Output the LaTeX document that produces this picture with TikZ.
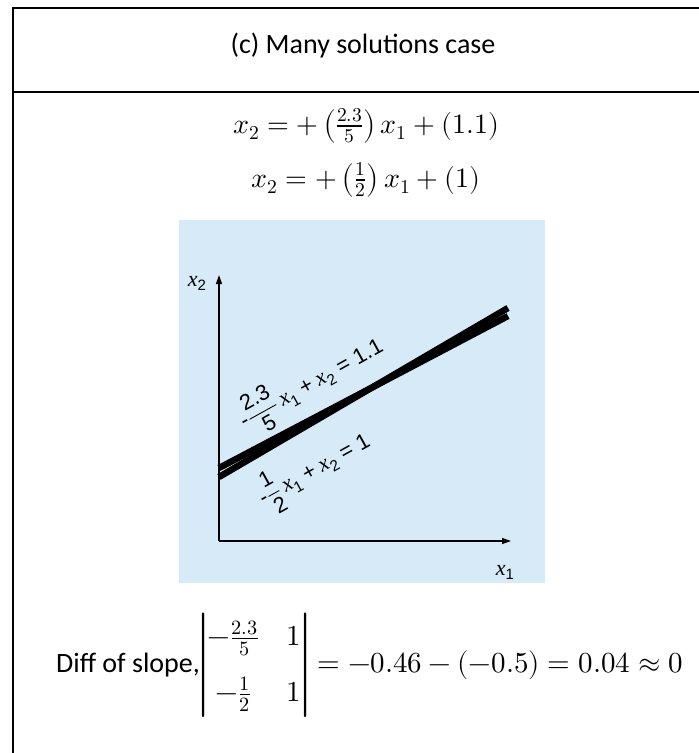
\documentclass[tikz,border=0pt]{standalone}
\usepackage{amsmath}
\usepackage{unicode-math}
\setmainfont{Carlito}
\setmathfont{Latin Modern Math}
\newfontfamily\hv{Liberation Sans}
\newfontfamily\tmit{Liberation Serif Italic}
\usetikzlibrary{arrows.meta}
\definecolor{plotbg}{RGB}{214,234,248}
\newcommand{\hvn}[1]{\text{\hv #1}}
\newcommand{\lx}[1]{\text{\tmit x}_{\text{\hv #1}}}
\begin{document}
\begin{tikzpicture}[x=1pt,y=-1pt,
  rule/.style={line width=2pt},
  bigtext/.style={font=\fontsize{28}{34}\selectfont, inner sep=0pt},
  axis/.style={line width=1.2pt, -{Triangle[length=9pt,width=6pt]}},
  sol/.style={line width=6.5pt},
  plotlab/.style={font=\fontsize{22}{26}\selectfont, inner sep=0pt}]
\useasboundingbox (0,0) rectangle (699,753);
% table rules
\draw[rule] (13,753) -- (13,7.5) -- (699,7.5);
\draw[rule] (12,92) -- (699,92);
% texts
\node[bigtext, anchor=base] (title) at (363,53) {(c) Many solutions case};
\node[bigtext, anchor=base] (eq1) at (366,133) {$x_2 = +\left(\frac{2.3}{5}\right)x_1 + (1.1)$};
\node[bigtext, anchor=base] (eq2) at (366,187) {$x_2 = +\left(\frac{1}{2}\right)x_1 + (1)$};
% plot
\fill[plotbg] (179,220) rectangle (545,583);
\coordinate (O) at (219,541);
\coordinate (ytip) at (219,275);
\coordinate (xtip) at (511,541);
\draw[axis] (O) -- (ytip);
\draw[axis] (O) -- (xtip);
\node[plotlab] (xtwo) at (197,283) {\tmit x\raisebox{-4pt}{\hv\fontsize{15}{17}\selectfont 2}};
\node[plotlab] (xone) at (505,572) {\tmit x\raisebox{-4pt}{\hv\fontsize{15}{17}\selectfont 1}};
\coordinate (a0) at (219,468);
\coordinate (a1) at (508,316);
\coordinate (b0) at (219,477);
\coordinate (b1) at (508,308);
\draw[sol] (a0) -- (a1);
\draw[sol] (b0) -- (b1);
\node[plotlab, rotate=29] (lab1) at (311,383) {$\hvn{-}\dfrac{\hvn{2.3}}{\hvn{5}}\,\lx{1} \mathbin{\hvn{+}} \lx{2} \mathrel{\hvn{=}} \hvn{1.1}$};
\node[plotlab, rotate=29] (lab2) at (314,469) {$\hvn{-}\dfrac{\hvn{1}}{\hvn{2}}\,\lx{1} \mathbin{\hvn{+}} \lx{2} \mathrel{\hvn{=}} \hvn{1}$};
% bottom row
\node[bigtext, anchor=base west] (diff) at (56,672) {Diff of slope,\fontsize{29}{34}\selectfont$\setlength{\arraycolsep}{14pt}\renewcommand{\arraystretch}{1.3}\begin{vmatrix} -\frac{2.3}{5} & 1\\[12pt] -\frac{1}{2} & 1\end{vmatrix} = -0.46-(-0.5)=0.04\approx 0$};
\end{tikzpicture}
\end{document}
